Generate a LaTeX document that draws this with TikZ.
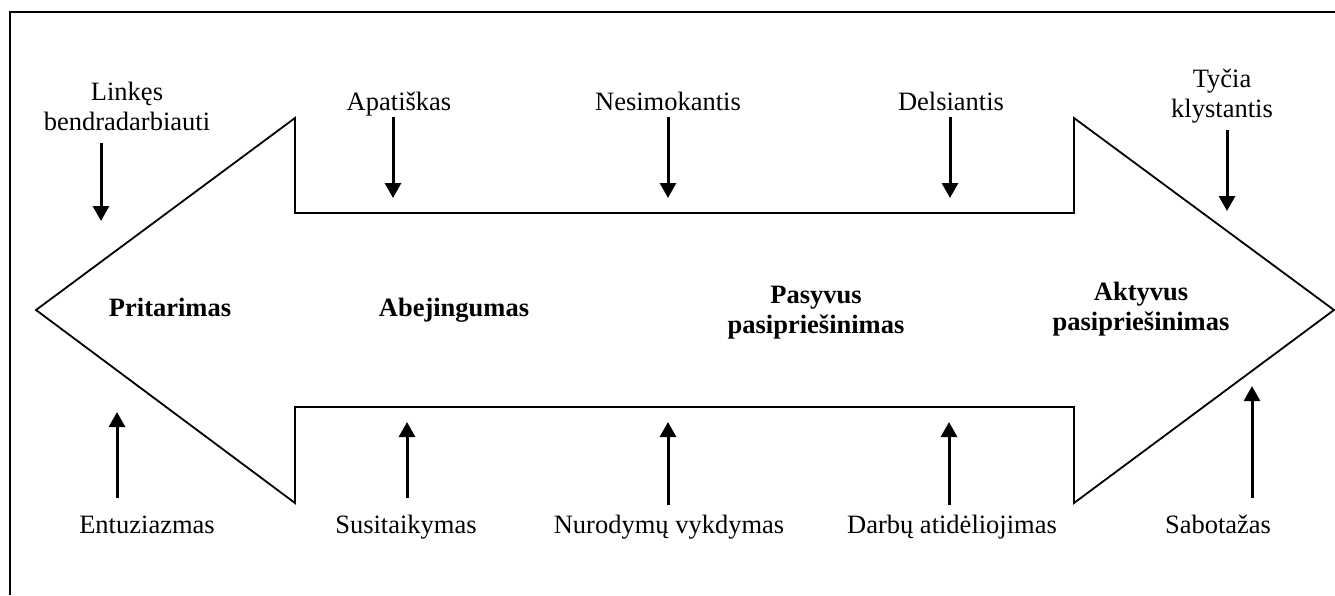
\documentclass[tikz,border=0pt]{standalone}
\usepackage{fontspec}
\setmainfont{Liberation Serif}
\usetikzlibrary{arrows.meta}

\tikzset{
  frameline/.style={line width=2.4pt, black},
  bigarrow/.style={line width=1.8pt, black, line join=miter},
  pointer/.style={line width=3pt, -{Triangle[width=16pt,length=15pt]}},
  lbl/.style={anchor=base, inner sep=0pt, align=center,
    font=\fontsize{26.5}{30}\selectfont},
  stage/.style={lbl, font=\fontsize{26.5}{30}\selectfont\bfseries},
}

\begin{document}
\begin{tikzpicture}[x=1pt, y=-1pt]
\useasboundingbox (0,0) rectangle (1335,595);

% partial frame: left and top edges
\coordinate (fbl) at (10,595);
\coordinate (ftl) at (10,12);
\coordinate (ftr) at (1335,12);
\draw[frameline] (fbl) -- (ftl) -- (ftr);

% double-headed block arrow
\coordinate (ltip) at (36,310);
\coordinate (lnt) at (295,118);
\coordinate (lst) at (295,213);
\coordinate (rst) at (1074,213);
\coordinate (rnt) at (1074,118);
\coordinate (rtip) at (1334,310);
\coordinate (rnb) at (1074,503);
\coordinate (rsb) at (1074,407);
\coordinate (lsb) at (295,407);
\coordinate (lnb) at (295,503);
\draw[bigarrow] (ltip) -- (lnt) -- (lst) -- (rst) -- (rnt) -- (rtip)
  -- (rnb) -- (rsb) -- (lsb) -- (lnb) -- cycle;

% stages inside the arrow (base = baseline of the last line)
\node[stage] (pri) at (170,316) {Pritarimas};
\node[stage] (abe) at (454,316) {Abejingumas};
\node[stage] (pas) at (816,333) {Pasyvus\\pasipriešinimas};
\node[stage] (akt) at (1141,330) {Aktyvus\\pasipriešinimas};

% upper labels
\node[lbl] (lin) at (127,130) {Linkęs\\bendradarbiauti};
\node[lbl] (apa) at (399,110) {Apatiškas};
\node[lbl] (nes) at (668,110) {Nesimokantis};
\node[lbl] (del) at (951,110) {Delsiantis};
\node[lbl] (tyc) at (1222,117) {Tyčia\\klystantis};

% lower labels
\node[lbl] (ent) at (147,533) {Entuziazmas};
\node[lbl] (sus) at (406,533) {Susitaikymas};
\node[lbl] (nur) at (669,533) {Nurodymų vykdymas};
\node[lbl] (dar) at (952,533) {Darbų atidėliojimas};
\node[lbl] (sab) at (1218,533) {Sabotažas};

% upper pointers (downward)
\coordinate (a1s) at (101,143); \coordinate (a1e) at (101,221);
\coordinate (a2s) at (393,117); \coordinate (a2e) at (393,198);
\coordinate (a3s) at (668,117); \coordinate (a3e) at (668,198);
\coordinate (a4s) at (950,117); \coordinate (a4e) at (950,198);
\coordinate (a5s) at (1227,130); \coordinate (a5e) at (1227,211);
\draw[pointer] (a1s) -- (a1e);
\draw[pointer] (a2s) -- (a2e);
\draw[pointer] (a3s) -- (a3e);
\draw[pointer] (a4s) -- (a4e);
\draw[pointer] (a5s) -- (a5e);

% lower pointers (upward)
\coordinate (b1s) at (117,498); \coordinate (b1e) at (117,412);
\coordinate (b2s) at (407,498); \coordinate (b2e) at (407,422);
\coordinate (b3s) at (668,505); \coordinate (b3e) at (668,422);
\coordinate (b4s) at (949,505); \coordinate (b4e) at (949,422);
\coordinate (b5s) at (1252,498); \coordinate (b5e) at (1252,386);
\draw[pointer] (b1s) -- (b1e);
\draw[pointer] (b2s) -- (b2e);
\draw[pointer] (b3s) -- (b3e);
\draw[pointer] (b4s) -- (b4e);
\draw[pointer] (b5s) -- (b5e);
\end{tikzpicture}
\end{document}
